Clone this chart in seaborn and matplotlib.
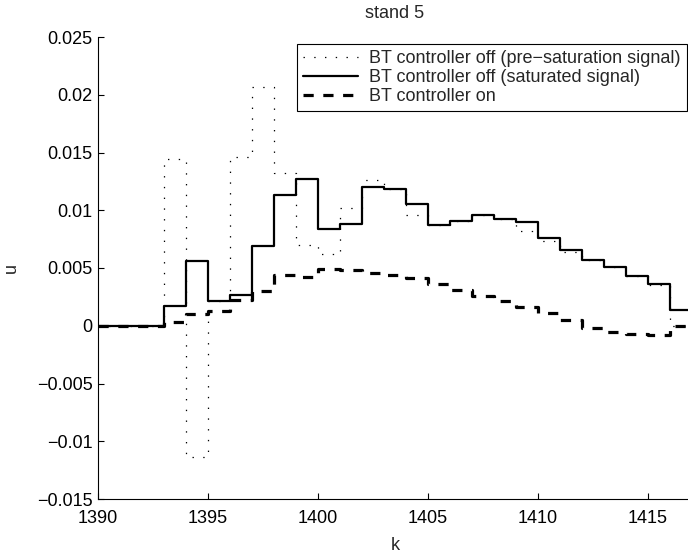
import matplotlib
matplotlib.use("Agg")
import matplotlib.pyplot as plt
import pandas as pd
import seaborn as sns

# ---- data ----
k = list(range(1390, 1418))
pre_saturation = [0, 0, 0, 0.0144, -0.0114, 0.0021, 0.0146, 0.0207, 0.0132, 0.0070,
                  0.0062, 0.0102, 0.0126, 0.0118, 0.0096, 0.0087, 0.0091, 0.0096,
                  0.0092, 0.0082, 0.0073, 0.0064, 0.0057, 0.0051, 0.0043, 0.0035,
                  0.0000, 0.0000]
saturated = [0, 0, 0, 0.0017, 0.0056, 0.0021, 0.0027, 0.0069, 0.0113, 0.0127,
             0.0084, 0.0088, 0.0120, 0.0118, 0.0105, 0.0087, 0.0091, 0.0096,
             0.0092, 0.0090, 0.0076, 0.0066, 0.0057, 0.0051, 0.0043, 0.0036,
             0.0014, 0.0014]
controller_on = [0, 0, 0, 0.0003, 0.0010, 0.0013, 0.0022, 0.0030, 0.0044, 0.0042,
                 0.0049, 0.0048, 0.0046, 0.0044, 0.0041, 0.0036, 0.0031, 0.0026,
                 0.0021, 0.0016, 0.0011, 0.0005, -0.0002, -0.0005, -0.0007, -0.0008,
                 0.0000, 0.0000]
series_labels = ["BT controller off (pre\u2212saturation signal)",
                 "BT controller off (saturated signal)",
                 "BT controller on"]
xticks = [1390, 1395, 1400, 1405, 1410, 1415]
xtick_labels = ["1390", "1395", "1400", "1405", "1410", "1415"]
yticks = [-0.015, -0.01, -0.005, 0, 0.005, 0.01, 0.015, 0.02, 0.025]
ytick_labels = ["\u22120.015", "\u22120.01", "\u22120.005", "0", "0.005",
                "0.01", "0.015", "0.02", "0.025"]

# ---- style ----
sns.set_style("white")
plt.rcParams["font.family"] = ["Liberation Sans", "DejaVu Sans"]
plt.rcParams["font.size"] = 13

fig = plt.figure(figsize=(6.88, 5.54), dpi=100)
ax = fig.add_axes([98 / 688, 55 / 554, 594 / 688, 462 / 554])

df_pre = pd.DataFrame({"k": k, "u": pre_saturation})
df_sat = pd.DataFrame({"k": k, "u": saturated})
df_on = pd.DataFrame({"k": k, "u": controller_on})

sns.lineplot(data=df_pre, x="k", y="u", ax=ax, drawstyle="steps-post",
             color="black", linewidth=0.9, linestyle=(0, (1.1, 7.5)),
             label=series_labels[0], errorbar=None)
sns.lineplot(data=df_sat, x="k", y="u", ax=ax, drawstyle="steps-post",
             color="black", linewidth=1.6, linestyle="-",
             label=series_labels[1], errorbar=None)
sns.lineplot(data=df_on, x="k", y="u", ax=ax, drawstyle="steps-post",
             color="black", linewidth=2.3, linestyle=(0, (3.2, 3.0)),
             label=series_labels[2], errorbar=None)

ax.set_xlim(1390, 1417)
ax.set_ylim(-0.015, 0.025)
ax.set_xticks(xticks)
ax.set_xticklabels(xtick_labels)
ax.set_yticks(yticks)
ax.set_yticklabels(ytick_labels)

for side in ["top", "right"]:
    ax.spines[side].set_visible(False)
for side in ["left", "bottom"]:
    ax.spines[side].set_color("black")
    ax.spines[side].set_linewidth(0.8)

ax.tick_params(axis="both", which="both", direction="in", length=4, width=0.8,
               bottom=True, left=True, top=False, right=False,
               labelsize=13, colors="black")
ax.tick_params(axis="x", pad=8)
ax.tick_params(axis="y", pad=4)

ax.set_xlabel("k", fontsize=13, labelpad=7)
ax.set_ylabel("u", fontsize=13, labelpad=12)
ax.set_title("stand 5", fontsize=13, pad=14)

leg = ax.legend(loc="upper right", bbox_to_anchor=(687 / 688, 1 - 44 / 554),
                bbox_transform=fig.transFigure, frameon=True, fancybox=False,
                edgecolor="black", framealpha=1, fontsize=13,
                handlelength=3.05, handletextpad=0.6, labelspacing=0.1,
                borderpad=0.35, borderaxespad=0)
leg.get_frame().set_linewidth(0.8)

fig.savefig("out.png", dpi=100)
